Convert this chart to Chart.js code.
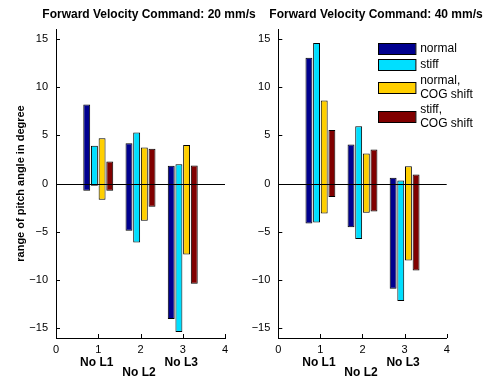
<!DOCTYPE html>
<html><head><meta charset="utf-8">
<script src="https://cdn.jsdelivr.net/npm/chart.js@4/dist/chart.umd.min.js"></script>
<style>
html,body{margin:0;padding:0;width:487px;height:377px;overflow:hidden;background:#fff;}
canvas{position:absolute;top:0;}
#c1{left:0;} #c2{left:240px;}
</style></head><body>
<canvas id="c1" width="300" height="377"></canvas>
<canvas id="c2" width="247" height="377"></canvas>
<script>
const titles = ['Forward Velocity Command: 20 mm/s', 'Forward Velocity Command: 40 mm/s'];
const yAxisTitle = 'range of pitch angle in degree';
const categories = ['No L1', 'No L2', 'No L3'];
const categoryX = [1, 2, 3];
const seriesNames = [['normal'], ['stiff'], ['normal,', 'COG shift'], ['stiff,', 'COG shift']];
const seriesColors = ['#00008f', '#00dfff', '#ffcf00', '#800000'];
const xTicks = [0, 1, 2, 3, 4];
const yTicks = [-15, -10, -5, 0, 5, 10, 15];

// [min, max] of pitch angle per category, 20 mm/s
const v20_normal    = [[-0.76, 8.17], [-4.9, 4.17], [-14.03, 1.83]];
const v20_stiff     = [[-0.24, 3.9],  [-6.1, 5.28], [-15.38, 2.0]];
const v20_normalCOG = [[-1.69, 4.69], [-3.86, 3.72], [-7.34, 4.0]];
const v20_stiffCOG  = [[-0.76, 2.28], [-2.41, 3.59], [-10.38, 1.86]];
// 40 mm/s
const v40_normal    = [[-4.14, 13.03], [-4.52, 4.03], [-10.9, 0.59]];
const v40_stiff     = [[-4.03, 14.55], [-5.76, 5.93], [-12.17, 0.31]];
const v40_normalCOG = [[-3.1, 8.59],   [-3.03, 3.1],  [-7.97, 1.79]];
const v40_stiffCOG  = [[-1.41, 5.55],  [-2.9, 3.52],  [-9.0, 0.93]];

const FONT = '"Liberation Sans", Arial, Helvetica, sans-serif';
Chart.defaults.font.family = FONT;
Chart.defaults.color = '#000';

const fmt = v => v < 0 ? '\u2212' + Math.abs(v) : String(v);

function buildDatasets(series) {
  return series.map((vals, i) => ({
    label: seriesNames[i].join(' '),
    legendLines: seriesNames[i],
    data: vals.map((r, j) => ({ x: categoryX[j], y: r })),
    backgroundColor: seriesColors[i],
    borderColor: '#000',
    borderWidth: 1,
    borderSkipped: false,
    categoryPercentage: 0.727,
    barPercentage: 0.9
  }));
}

const decor = {
  id: 'decor',
  afterDatasetsDraw(chart, args, opts) {
    const { ctx, chartArea: a, scales: { x, y } } = chart;
    ctx.save();
    ctx.strokeStyle = '#000';
    ctx.lineWidth = 1;
    const y0 = Math.round(y.getPixelForValue(0)) + 0.5;
    ctx.beginPath(); ctx.moveTo(a.left, y0); ctx.lineTo(a.right, y0); ctx.stroke();
    ctx.beginPath();
    y.ticks.forEach(t => { const p = Math.round(y.getPixelForValue(t.value)) + 0.5; ctx.moveTo(a.left, p); ctx.lineTo(a.left + 4, p); });
    x.ticks.forEach(t => { const p = Math.round(x.getPixelForValue(t.value)) + 0.5; ctx.moveTo(p, a.bottom); ctx.lineTo(p, a.bottom - 4); });
    ctx.stroke();
    ctx.fillStyle = '#000';
    ctx.textAlign = 'center';
    ctx.textBaseline = 'middle';
    ctx.font = 'bold 12px ' + FONT;
    ctx.fillText(opts.title, (a.left + a.right) / 2 + opts.titleShift, 14.5);
    ctx.font = 'bold 12px ' + FONT;
    categories.forEach((c, i) => {
      ctx.fillText(c, x.getPixelForValue(categoryX[i]) - 1.5, a.bottom + (i % 2 ? 35 : 25));
    });
    if (opts.legend) {
      const sx = a.right - 68.4, sw = 37.4, sh = 11;
      const rowY = [48.8, 64.5, 87.8, 116.8];
      ctx.font = '12px ' + FONT;
      ctx.textAlign = 'left';
      chart.data.datasets.forEach((ds, i) => {
        const cy = rowY[i];
        ctx.fillStyle = ds.backgroundColor;
        ctx.fillRect(sx, cy - sh / 2, sw, sh);
        ctx.strokeRect(Math.round(sx) + 0.5, Math.round(cy - sh / 2) + 0.5, sw, sh);
        ctx.fillStyle = '#000';
        const lines = ds.legendLines;
        const lh = 13.3;
        lines.forEach((ln, k) => {
          ctx.fillText(ln, sx + sw + 4.5, cy - (lines.length - 1) * lh / 2 + k * lh);
        });
      });
    }
    ctx.restore();
  }
};

function makeChart(id, series, idx, yTitle, legend, yWidth, padRight, titleShift) {
  return new Chart(document.getElementById(id), {
    type: 'bar',
    data: { datasets: buildDatasets(series) },
    plugins: [decor],
    options: {
      responsive: false,
      animation: false,
      layout: { padding: { left: 0, right: padRight, top: 29, bottom: 0 } },
      plugins: {
        legend: { display: false },
        tooltip: { enabled: false },
        title: { display: false },
        decor: { title: titles[idx], legend: legend, titleShift: titleShift }
      },
      scales: {
        x: {
          type: 'linear', min: 0, max: 4, offset: false,
          grid: { display: true, drawOnChartArea: false, drawTicks: false, offset: false },
          border: { display: true, color: '#000', width: 1 },
          ticks: { padding: 5, color: '#000', font: { size: 11 }, callback: v => fmt(v) },
          afterBuildTicks: s => { s.ticks = xTicks.map(v => ({ value: v })); },
          afterFit: s => { s.height = 39; s.paddingLeft = 0; s.paddingRight = 0; }
        },
        y: {
          type: 'linear', min: -16, max: 16,
          grid: { display: true, drawOnChartArea: false, drawTicks: false },
          border: { display: true, color: '#000', width: 1 },
          ticks: { padding: 8, color: '#000', font: { size: 11 }, callback: v => fmt(v) },
          title: { display: yTitle, text: yAxisTitle, color: '#000', font: { size: 11, weight: 'bold' }, padding: { top: 14.5, bottom: 0 } },
          afterBuildTicks: s => { s.ticks = yTicks.map(v => ({ value: v })); },
          afterFit: s => { s.width = yWidth; s.paddingTop = 0; s.paddingBottom = 0; }
        }
      }
    }
  });
}

makeChart('c1', [v20_normal, v20_stiff, v20_normalCOG, v20_stiffCOG], 0, true, false, 56, 300 - 225, 8.5);
makeChart('c2', [v40_normal, v40_stiff, v40_normalCOG, v40_stiffCOG], 1, false, true, 38.3, 247 - 206.7, 13.5);
</script>
</body></html>
